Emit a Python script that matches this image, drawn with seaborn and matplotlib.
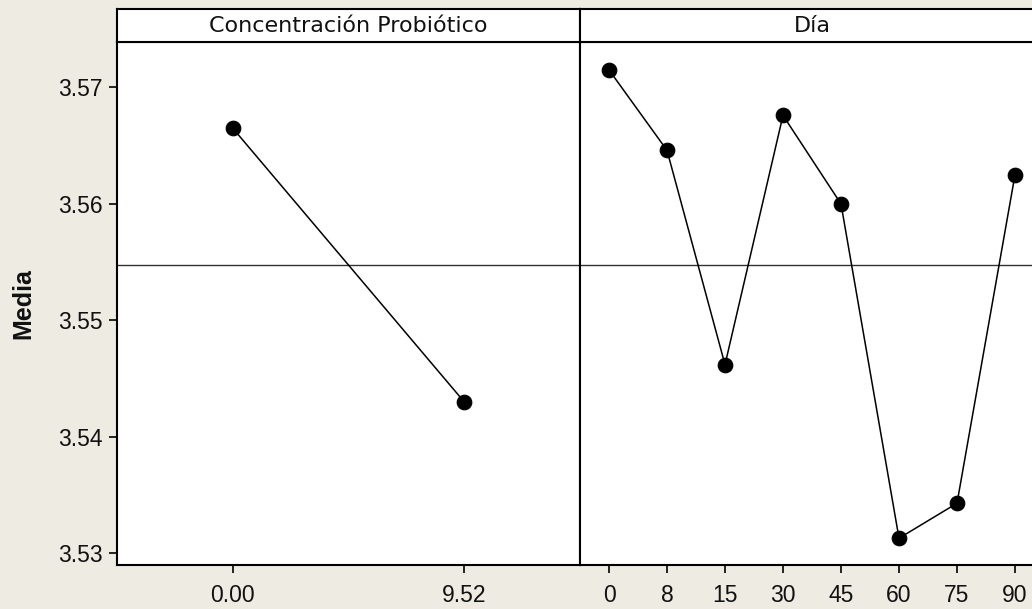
import matplotlib
matplotlib.use("Agg")
import matplotlib.pyplot as plt
import seaborn as sns
import numpy as np

# Main effects of probiotic concentration and storage day on the mean response
conc_levels = ["0.00", "9.52"]
conc_means = [3.5665, 3.5430]

day_levels = ["0", "8", "15", "30", "45", "60", "75", "90"]
day_means = [3.5715, 3.5646, 3.5462, 3.5676, 3.5600, 3.5313, 3.5343, 3.5625]

y_ticks = [3.53, 3.54, 3.55, 3.56, 3.57]
panel_titles = ["Concentración Probiótico", "Día"]
y_label = "Media"

grand_mean = float(np.mean(conc_means))

sns.set_theme(style="white")
plt.rcParams["font.family"] = ["Liberation Sans", "DejaVu Sans"]

bg = "#EEEBE2"
W, H = 1032, 609
fig = plt.figure(figsize=(W / 100, H / 100), dpi=100, facecolor=bg)

def fx(px):
    return px / W

def fy(py):
    return 1 - py / H

plot_top, plot_bot, strip_top = 42, 565, 9
panels = [
    (117, 580, conc_levels, conc_means, panel_titles[0]),
    (580, 1044, day_levels, day_means, panel_titles[1]),
]

for i, (x0, x1, levels, means, title) in enumerate(panels):
    ax = fig.add_axes([fx(x0), fy(plot_bot), fx(x1 - x0), (plot_bot - plot_top) / H])
    ax.set_facecolor("white")
    sns.pointplot(x=levels, y=means, order=levels, color="black", markers="o",
                  linestyles="-", errorbar=None, markersize=10.5, linewidth=1.1,
                  ax=ax)
    ax.axhline(grand_mean, color="#333333", lw=1.0, zorder=1)
    ax.set_xlim(-0.5, len(levels) - 0.5)
    ax.set_ylim(3.529, 3.5739)
    for s in ax.spines.values():
        s.set_color("black")
        s.set_linewidth(1.5)
        s.set_visible(True)
    ax.tick_params(axis="x", direction="out", length=6, width=1.2, color="black",
                   labelsize=16.5, labelcolor="#111111", pad=7.5, bottom=True)
    if i == 0:
        ax.set_yticks(y_ticks)
        ax.set_yticklabels([f"{v:.2f}" for v in y_ticks])
        ax.tick_params(axis="y", direction="out", length=6, width=1.2, color="black",
                       labelsize=16.5, labelcolor="#111111", pad=4.5, left=True)
    else:
        ax.set_yticks([])
    ax.set_ylabel("")
    ax.set_xlabel("")

    # strip header above each panel
    sax = fig.add_axes([fx(x0), fy(plot_top), fx(x1 - x0), (plot_top - strip_top) / H])
    sax.set_facecolor("white")
    sax.set_xticks([])
    sax.set_yticks([])
    for s in sax.spines.values():
        s.set_color("black")
        s.set_linewidth(1.5)
    sax.text(0.5, 0.47, title, ha="center", va="center", fontsize=16,
             family=["DejaVu Sans"], color="#111111", transform=sax.transAxes)

fig.text(fx(23), fy((plot_top + plot_bot) / 2), y_label, rotation=90,
         ha="center", va="center", fontsize=18, fontweight="bold", color="#111111")

fig.savefig("out.png", dpi=100, facecolor=bg)
